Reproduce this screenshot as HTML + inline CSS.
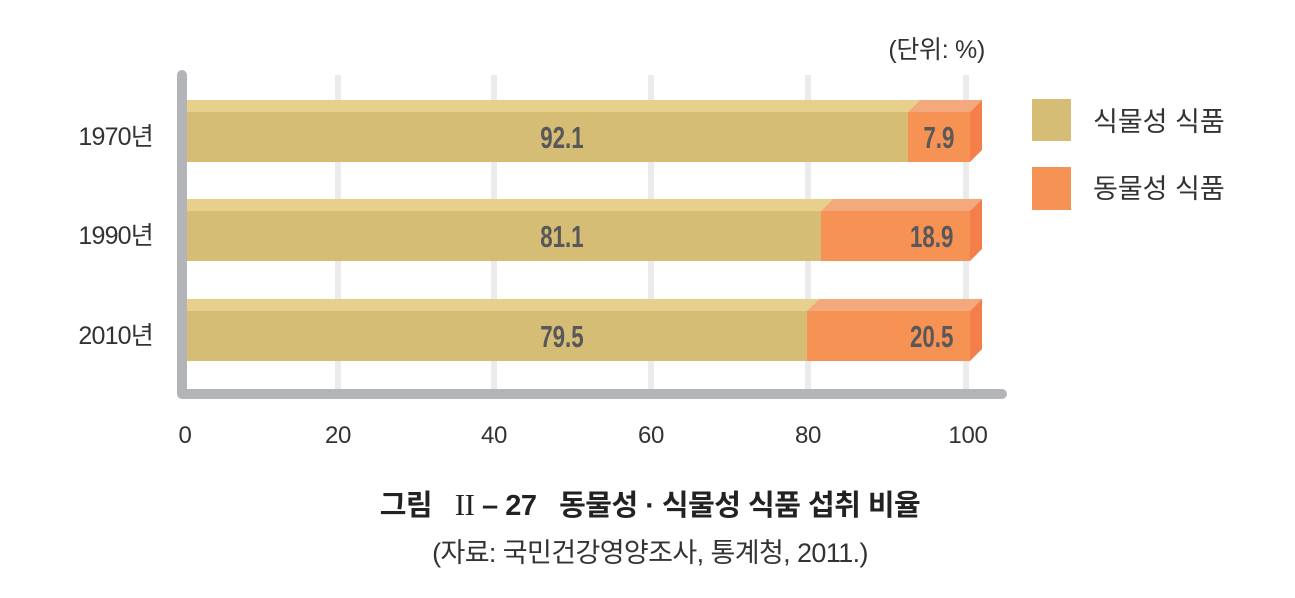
<!DOCTYPE html>
<html><head><meta charset="utf-8"><style>
body{margin:0;background:#fff;}
svg text{font-family:"Liberation Sans","Noto Sans CJK KR",sans-serif;}
.v{font-family:"Liberation Sans Narrow","Liberation Sans",sans-serif;font-weight:bold;font-size:31px;fill:#58585a;text-anchor:middle}
.t{font-size:24px;fill:#333;letter-spacing:-0.3px}
.y{font-size:25px;fill:#333;letter-spacing:-0.8px}
</style></head><body>
<svg width="1295" height="593" xmlns="http://www.w3.org/2000/svg">
<g fill="#ebebee">
<rect x="335" y="75" width="6" height="316"/><rect x="491" y="75" width="6" height="316"/>
<rect x="648" y="75" width="6" height="316"/><rect x="805" y="75" width="6" height="316"/>
<rect x="963" y="75" width="6" height="316"/>
</g>
<g>
<polygon points="187,100 920,100 908,112 187,112" fill="#e6d08c"/>
<polygon points="920,100 982,100 970,112 908,112" fill="#f3a97c"/>
<rect x="187" y="112" width="721" height="50" fill="#d5bd76"/>
<rect x="908" y="112" width="62" height="50" fill="#f69253"/>
<polygon points="970,112 982,100 982,150 970,162" fill="#f47f4b"/>
<polygon points="187,199 833,199 821,211 187,211" fill="#e6d08c"/>
<polygon points="833,199 982,199 970,211 821,211" fill="#f3a97c"/>
<rect x="187" y="211" width="634" height="50" fill="#d5bd76"/>
<rect x="821" y="211" width="149" height="50" fill="#f69253"/>
<polygon points="970,211 982,199 982,249 970,261" fill="#f47f4b"/>
<polygon points="187,299 819,299 807,311 187,311" fill="#e6d08c"/>
<polygon points="819,299 982,299 970,311 807,311" fill="#f3a97c"/>
<rect x="187" y="311" width="620" height="50" fill="#d5bd76"/>
<rect x="807" y="311" width="163" height="50" fill="#f69253"/>
<polygon points="970,311 982,299 982,349 970,361" fill="#f47f4b"/>
</g>
<g transform="scale(0.72,1)">
<text class="v" x="780.5" y="148">92.1</text><text class="v" x="1304" y="148">7.9</text>
<text class="v" x="780.5" y="247">81.1</text><text class="v" x="1294" y="247">18.9</text>
<text class="v" x="780.5" y="347">79.5</text><text class="v" x="1294" y="347">20.5</text>
</g>
<path d="M182,75 V394 H1002" fill="none" stroke="#b3b4b8" stroke-width="10" stroke-linecap="round" stroke-linejoin="round"/>
<text class="y" x="153" y="145" text-anchor="end">1970년</text>
<text class="y" x="153" y="244" text-anchor="end">1990년</text>
<text class="y" x="153" y="344" text-anchor="end">2010년</text>
<text class="t" x="185" y="443" text-anchor="middle">0</text>
<text class="t" x="338" y="443" text-anchor="middle">20</text>
<text class="t" x="494" y="443" text-anchor="middle">40</text>
<text class="t" x="651" y="443" text-anchor="middle">60</text>
<text class="t" x="808" y="443" text-anchor="middle">80</text>
<text class="t" x="968" y="443" text-anchor="middle">100</text>
<text x="985" y="58" text-anchor="end" style="font-size:25px;fill:#333;letter-spacing:-0.3px">(단위: %)</text>
<rect x="1032" y="99" width="39" height="42" fill="#d5bd76"/>
<rect x="1032" y="167" width="39" height="43" fill="#f69253"/>
<text x="1093" y="131" style="font-size:27px;fill:#333">식물성 식품</text>
<text x="1093" y="198" style="font-size:27px;fill:#333">동물성 식품</text>
<text x="650" y="515" text-anchor="middle" style="font-size:29px;font-weight:bold;fill:#222;letter-spacing:-0.5px" xml:space="preserve">그림   <tspan font-family="Liberation Serif" font-weight="normal" font-size="31">II</tspan> – 27   동물성 · 식물성 식품 섭취 비율</text>
<text x="650" y="562" text-anchor="middle" style="font-size:27px;fill:#333;letter-spacing:-0.6px">(자료: 국민건강영양조사, 통계청, 2011.)</text>
</svg>
</body></html>
